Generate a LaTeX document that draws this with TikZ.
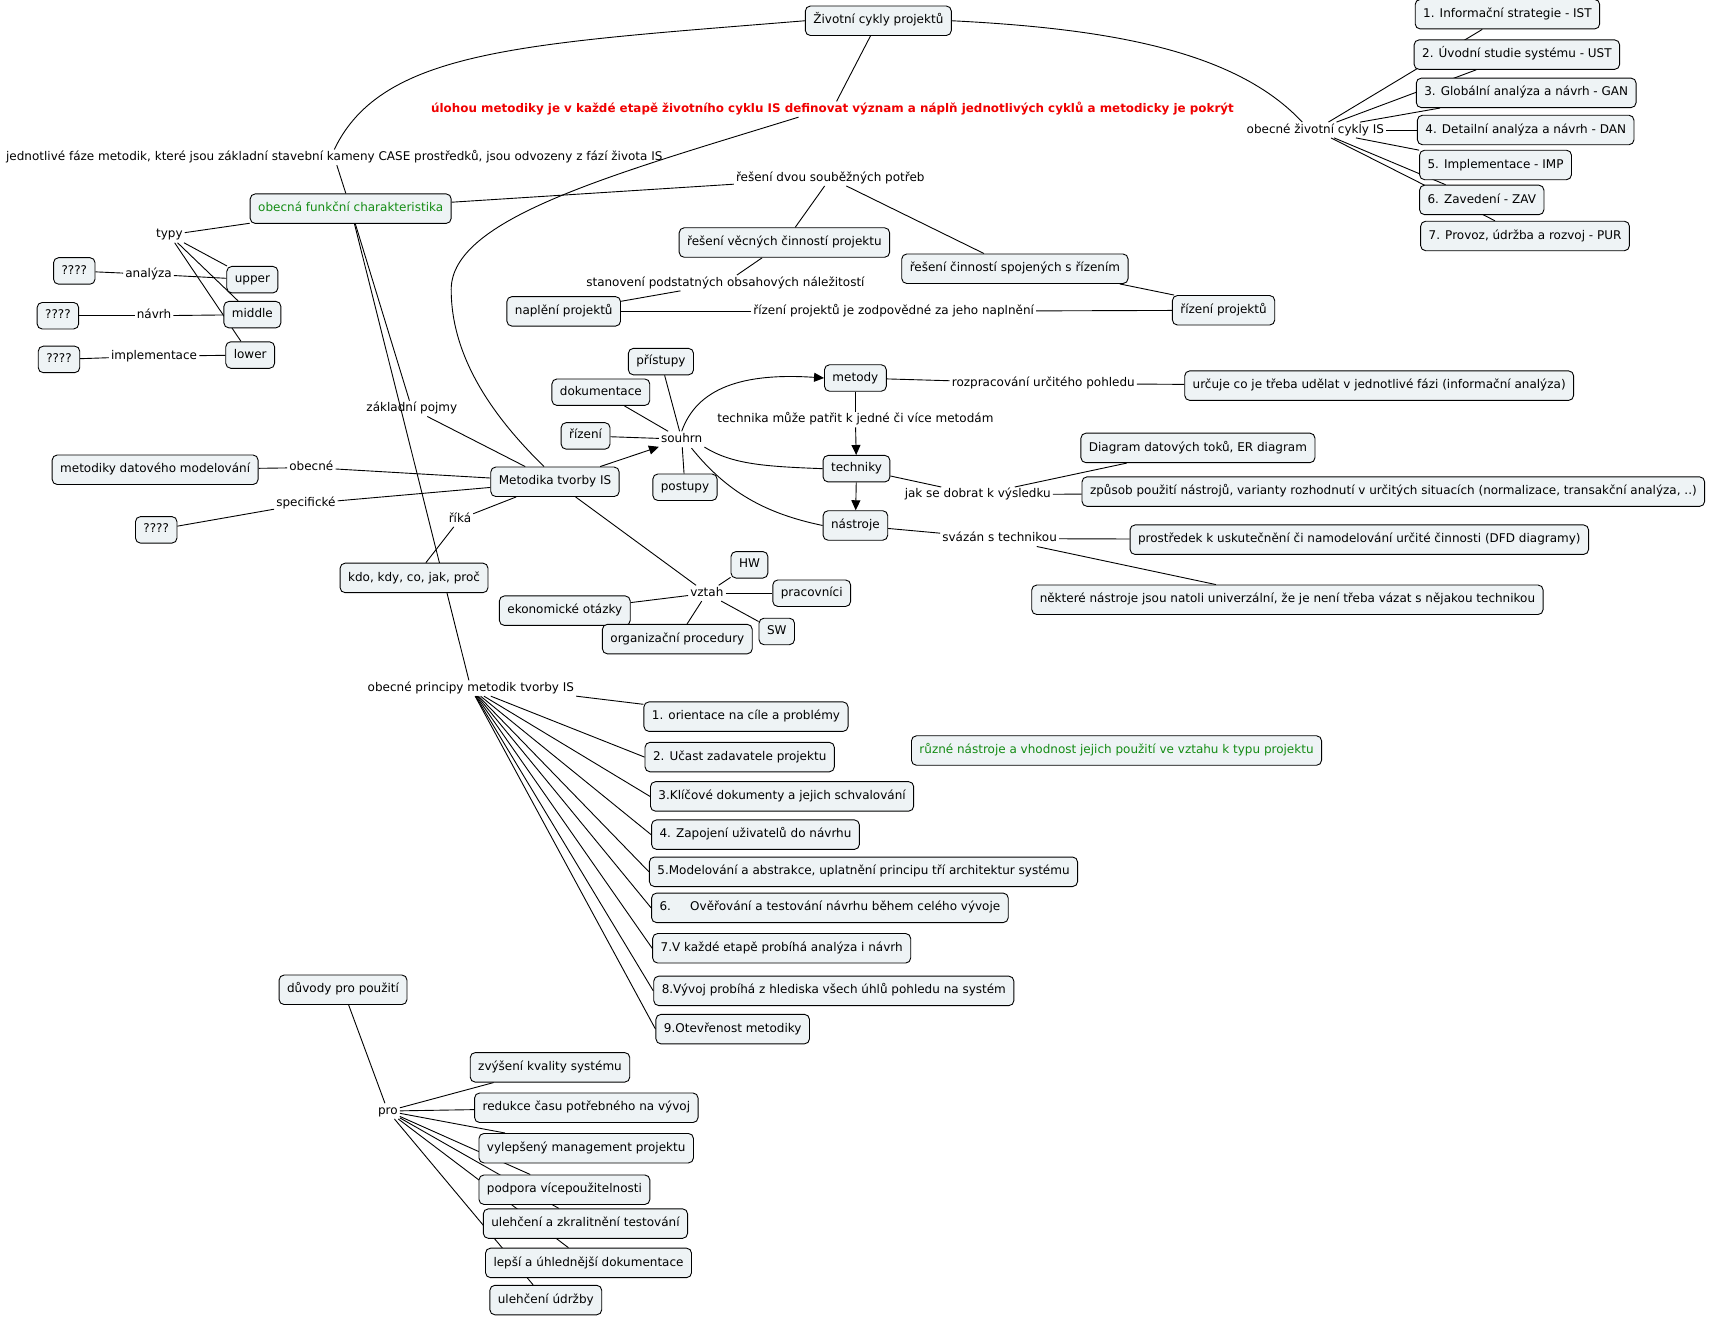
\documentclass[tikz,border=0pt]{standalone}
\usepackage{fontspec}
\setmainfont{DejaVu Sans}
\usepackage{xcolor}
\usetikzlibrary{arrows.meta, calc}
\definecolor{boxfill}{RGB}{238,243,245}
\definecolor{mapgreen}{RGB}{20,140,20}
\definecolor{mapred}{RGB}{240,0,0}
\pgfdeclarelayer{background}
\pgfsetlayers{background,main}

\begin{document}
\begin{tikzpicture}[x=1.0925pt, y=-1.0925pt,
    font=\fontsize{12}{14}\selectfont,
    concept/.style={draw, fill=boxfill, rounded corners=5pt, line width=0.9pt,
        inner xsep=8pt, minimum height=29.5pt, text height=8.8pt, text depth=2.6pt},
    small/.style={concept, minimum height=26.5pt},
    link/.style={inner sep=2pt, text height=8.8pt, text depth=2.6pt},
    conn/.style={line width=0.9pt},
    arr/.style={conn, -{Triangle[length=10pt,width=9pt]}}]
    \useasboundingbox (0,0) rectangle (1568,1205);

    % Life cycles
    \node[concept] (zcp) at (804,19) {Životní cykly projektů};
    \node[link] (ozc) at (1204,119) {obecné životní cykly IS};
    \node[concept, anchor=west] (c1) at (1295,13) {1. Informační strategie - IST};
    \node[concept, anchor=west] (c2) at (1294,50) {2. Úvodní studie systému - UST};
    \node[concept, anchor=west] (c3) at (1296,85) {3. Globální analýza a návrh - GAN};
    \node[concept, anchor=west] (c4) at (1297,119) {4. Detailní analýza a návrh - DAN};
    \node[concept, anchor=west] (c5) at (1299,151) {5. Implementace - IMP};
    \node[concept, anchor=west] (c6) at (1299,183) {6. Zavedení - ZAV};
    \node[concept, anchor=west] (c7) at (1300,216) {7. Provoz, údržba a rozvoj - PUR};
    \node[link, text=mapred, font=\fontsize{11.9}{14}\selectfont\bfseries] (ul) at (762,100)
        {úlohou metodiky je v každé etapě životního cyklu IS definovat význam a náplň jednotlivých cyklů a metodicky je pokrýt};
    \node[link] (jf) at (306,144)
        {jednotlivé fáze metodik, které jsou základní stavební kameny CASE prostředků, jsou odvozeny z fází života IS};

    % General characteristics
    \node[concept, text=mapgreen] (ofch) at (321,191) {obecná funkční charakteristika};
    \node[link] (ldp) at (760,163) {řešení dvou souběžných potřeb};
    \node[concept] (rv) at (718,222) {řešení věcných činností projektu};
    \node[concept] (rr) at (929,246) {řešení činností spojených s řízením};
    \node[link] (sp) at (664,259) {stanovení podstatných obsahových náležitostí};
    \node[concept] (np) at (516,285) {naplění projektů};
    \node[link] (rz) at (818,285) {řízení projektů je zodpovědné za jeho naplnění};
    \node[concept] (rp) at (1120,284) {řízení projektů};

    % Types
    \node[link] (ty) at (155,215) {typy};
    \node[small] (up) at (231,256) {upper};
    \node[small] (mi) at (231,288) {middle};
    \node[small] (lo) at (229,325) {lower};
    \node[link] (an) at (136,251) {analýza};
    \node[link] (nv) at (141,289) {návrh};
    \node[link] (im) at (141,326) {implementace};
    \node[small] (q1) at (68,248) {????};
    \node[small] (q2) at (53,289) {????};
    \node[small] (q3) at (54,329) {????};

    % Methodology
    \node[link] (zp) at (377,374) {základní pojmy};
    \node[concept] (mt) at (508,441) {Metodika tvorby IS};
    \node[link] (ob) at (285,428) {obecné};
    \node[concept] (dm) at (142,430) {metodiky datového modelování};
    \node[link] (sf) at (280,461) {specifické};
    \node[small] (q4) at (143,485) {????};
    \node[link] (rk) at (421,475) {říká};
    \node[concept] (kd) at (379,529) {kdo, kdy, co, jak, proč};

    % Summary
    \node[link] (so) at (624,402) {souhrn};
    \node[small] (pr) at (605,331) {přístupy};
    \node[small] (dk) at (550,359) {dokumentace};
    \node[small] (rz2) at (536,399) {řízení};
    \node[small] (ps) at (627,446) {postupy};
    \node[small] (me) at (783,346) {metody};
    \node[small] (te) at (784,429) {techniky};
    \node[concept] (na) at (783,481) {nástroje};
    \node[link] (tk) at (783,384) {technika může patřit k jedné či více metodám};
    \node[link] (ro) at (955,351) {rozpracování určitého pohledu};
    \node[concept, anchor=west] (ur) at (1084,353) {určuje co je třeba udělat v jednotlivé fázi (informační analýza)};
    \node[link] (jd) at (895,453) {jak se dobrat k výsledku};
    \node[concept, anchor=west] (dd) at (989,410) {Diagram datových toků, ER diagram};
    \node[concept, anchor=west] (zs) at (990,450) {způsob použití nástrojů, varianty rozhodnutí v určitých situacích (normalizace, transakční analýza, ..)};
    \node[link] (sv) at (915,493) {svázán s technikou};
    \node[concept, anchor=west] (pk) at (1034,494) {prostředek k uskutečnění či namodelování určité činnosti (DFD diagramy)};
    \node[concept, anchor=west] (nn) at (944,549) {některé nástroje jsou natoli univerzální, že je není třeba vázat s nějakou technikou};

    % Relation
    \node[link] (vz) at (647,543) {vztah};
    \node[small] (hw) at (686,517) {HW};
    \node[small] (pc) at (743,543) {pracovníci};
    \node[concept] (eo) at (517,559) {ekonomické otázky};
    \node[concept] (orp) at (620,585) {organizační procedury};
    \node[small] (sw) at (711,578) {SW};

    % Principles
    \node[link] (op) at (431,630) {obecné principy metodik tvorby IS};
    \node[concept, anchor=west] (p1) at (589,656) {1. orientace na cíle a problémy};
    \node[concept, anchor=west] (p2) at (590,693) {2. Učast zadavatele projektu};
    \node[concept, anchor=west] (p3) at (595,729) {3.Klíčové dokumenty a jejich schvalování};
    \node[concept, anchor=west] (p4) at (596,764) {4. Zapojení uživatelů do návrhu};
    \node[concept, anchor=west] (p5) at (594,798) {5.Modelování a abstrakce, uplatnění principu tří architektur systému};
    \node[concept, anchor=west] (p6) at (596,831) {6.\hspace{1.6em}Ověřování a testování návrhu během celého vývoje};
    \node[concept, anchor=west] (p7) at (597,868) {7.V každé etapě probíhá analýza i návrh};
    \node[concept, anchor=west] (p8) at (598,907) {8.Vývoj probíhá z hlediska všech úhlů pohledu na systém};
    \node[concept, anchor=west] (p9) at (600,942) {9.Otevřenost metodiky};
    \node[concept, text=mapgreen] (gn) at (1022,687) {různé nástroje a vhodnost jejich použití ve vztahu k typu projektu};

    % Reasons
    \node[concept] (du) at (314,906) {důvody pro použití};
    \node[link] (pro) at (355,1017) {pro};
    \node[concept, anchor=west] (r1) at (430,977) {zvýšení kvality systému};
    \node[concept, anchor=west] (r2) at (434,1014) {redukce času potřebného na vývoj};
    \node[concept, anchor=west] (r3) at (438,1051) {vylepšený management projektu};
    \node[concept, anchor=west] (r4) at (438,1089) {podpora vícepoužitelnosti};
    \node[concept, anchor=west] (r5) at (442,1120) {ulehčení a zkralitnění testování};
    \node[concept, anchor=west] (r6) at (444,1156) {lepší a úhlednější dokumentace};
    \node[concept, anchor=west] (r7) at (448,1190) {ulehčení údržby};

    \begin{pgfonlayer}{background}
    \fill[white] (0,0) rectangle (1568,1205);
    % Connectors of the life cycles
    \draw[conn] (zcp.west) .. controls (480,40) and (350,45) .. (jf.north);
    \draw[conn] (jf) -- (ofch);
    \draw[conn] (zcp) -- (ul);
    \draw[conn] ($(ul.south)+(-31,0)$) .. controls (560,160) and (413,200) .. (413,265)
        .. controls (413,330) and (455,385) .. ($(mt.north)+(-10,0)$);
    \draw[conn] (zcp.east) .. controls (1010,26) and (1130,45) .. ($(ozc.north)+(-12,0)$);
    \foreach \i in {1,...,7}
        \draw[conn] (ozc) -- (c\i);

    % Connectors of the characteristics
    \draw[conn] (ofch) -- (ldp);
    \draw[conn] (ldp) -- (rv);
    \draw[conn] (ldp) -- (rr);
    \draw[conn] (rv) -- (sp);
    \draw[conn] (sp) -- (np);
    \draw[conn] ($(rr.south east)+(-8,0)$) -- ($(rp.north west)+(2,0)$);
    \draw[conn] (rp) -- (rz);
    \draw[conn] (rz) -- (np);
    \draw[conn] (ofch) -- (ty);
    \foreach \n in {up,mi,lo}
        \draw[conn] (ty) -- (\n);
    \draw[conn] (up) -- (an);
    \draw[conn] (an) -- (q1);
    \draw[conn] (mi) -- (nv);
    \draw[conn] (nv) -- (q2);
    \draw[conn] (lo) -- (im);
    \draw[conn] (im) -- (q3);
    \draw[conn] (ofch) -- (zp);
    \draw[conn] (ofch) -- (op);

    % Connectors of the methodology
    \draw[conn] (zp) -- (mt);
    \draw[conn] (mt) -- (ob);
    \draw[conn] (ob) -- (dm);
    \draw[conn] (mt) -- (sf);
    \draw[conn] (sf) -- (q4);
    \draw[conn] (mt) -- (rk);
    \draw[conn] (rk) -- (kd);
    \draw[arr] (mt) -- (so);
    \draw[conn] (so) -- (pr);
    \draw[conn] (so) -- (dk);
    \draw[conn] (so) -- (rz2);
    \draw[conn] (so) -- (ps);
    \draw[arr] (so.north) .. controls (638,355) and (680,341) .. (me.west);
    \draw[conn] (so.south east) .. controls (670,425) and (700,427) .. (te.west);
    \draw[conn] ($(so.south)+(9,1)$) .. controls (665,450) and (700,470) .. (na.west);
    \draw[conn] (me) -- (tk);
    \draw[arr] (tk) -- (te);
    \draw[arr] (te) -- (na);
    \draw[conn] (me) -- (ro);
    \draw[conn] (ro) -- (ur);
    \draw[conn] (te) -- (jd);
    \draw[conn] (jd) -- (dd);
    \draw[conn] (jd) -- (zs);
    \draw[conn] (na) -- (sv);
    \draw[conn] (sv) -- (pk);
    \draw[conn] (sv) -- (nn);
    \draw[conn] (mt) -- (vz);
    \foreach \n in {hw,pc,eo,orp,sw}
        \draw[conn] (vz) -- (\n);

    % Connectors of the principles and reasons
    \draw[conn] (op.south east) -- (p1);
    \foreach \i in {2,...,9}
        \draw[conn] (op) -- (p\i.west);
    \draw[conn] (du) -- (pro);
    \foreach \i in {1,...,7}
        \draw[conn] (pro) -- (r\i);
    \end{pgfonlayer}
\end{tikzpicture}
\end{document}
